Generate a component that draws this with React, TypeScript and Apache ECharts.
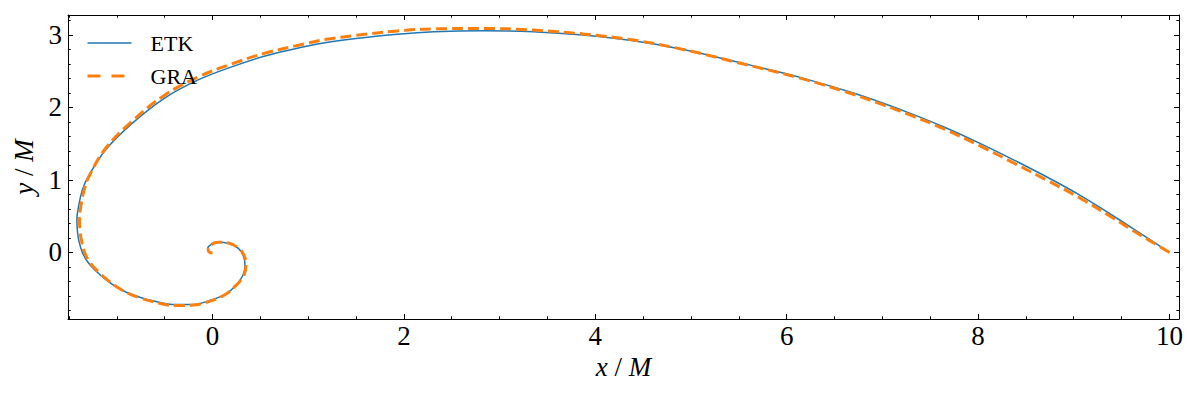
import React, { useEffect, useRef } from 'react';
import * as echarts from 'echarts';

// ETK trajectory (x/M, y/M)
const etkX = [10.0, 9.7, 9.41, 9.05, 8.72, 8.4, 8.02, 7.65, 7.32, 6.98, 6.63, 6.14, 5.93, 5.44, 4.92, 4.4, 3.87, 3.35, 2.83, 2.31, 1.93, 1.5, 1.19, 0.97, 0.55, 0.2, -0.15, -0.5, -0.84, -1.12, -1.3, -1.36, -1.4, -1.417, -1.412, -1.398, -1.36, -1.3, -1.215, -1.12, -1.02, -0.9, -0.76, -0.635, -0.39, -0.22, -0.04, 0.13, 0.25, 0.32, 0.34, 0.32, 0.27, 0.165, 0.06, -0.01, -0.05, -0.037, -0.01];
const etkY = [0.0, 0.258, 0.505, 0.8, 1.04, 1.258, 1.505, 1.727, 1.905, 2.072, 2.226, 2.415, 2.485, 2.64, 2.8, 2.92, 3.0, 3.045, 3.06, 3.045, 3.01, 2.95, 2.895, 2.84, 2.71, 2.56, 2.38, 2.13, 1.78, 1.41, 1.04, 0.86, 0.63, 0.45, 0.3, 0.17, 0.0, -0.14, -0.26, -0.37, -0.465, -0.55, -0.62, -0.665, -0.72, -0.72, -0.67, -0.58, -0.45, -0.31, -0.175, -0.04, 0.055, 0.124, 0.138, 0.11, 0.055, 0.0, -0.014];

// GRA trajectory (x/M, y/M)
const graX = [10.0, 9.7, 9.41, 9.05, 8.72, 8.4, 8.02, 7.65, 7.32, 6.98, 6.63, 6.14, 5.44, 4.92, 4.4, 3.87, 3.35, 2.83, 2.31, 1.93, 1.5, 1.19, 0.97, 0.55, 0.2, -0.15, -0.5, -0.84, -1.12, -1.29, -1.34, -1.375, -1.39, -1.385, -1.37, -1.335, -1.275, -1.19, -1.095, -0.998, -0.88, -0.745, -0.625, -0.39, -0.22, -0.04, 0.13, 0.25, 0.33, 0.35, 0.33, 0.27, 0.165, 0.06, -0.01, -0.045, -0.03, 0.0];
const graY = [0.0, 0.235, 0.475, 0.76, 0.995, 1.215, 1.47, 1.7, 1.88, 2.05, 2.21, 2.405, 2.635, 2.8, 2.93, 3.015, 3.068, 3.09, 3.085, 3.055, 2.995, 2.94, 2.88, 2.75, 2.6, 2.42, 2.17, 1.81, 1.43, 1.05, 0.87, 0.64, 0.45, 0.3, 0.17, -0.005, -0.15, -0.272, -0.383, -0.478, -0.565, -0.635, -0.68, -0.735, -0.73, -0.68, -0.585, -0.45, -0.31, -0.175, -0.04, 0.06, 0.13, 0.14, 0.11, 0.05, 0.0, -0.005];

const seriesNames = ['ETK', 'GRA'];

// Axis ranges and ticks
const xRange = [-1.51, 10.1];
const yRange = [-0.92, 3.276];
const xMajorTicks = [0, 2, 4, 6, 8, 10];
const xMinorTicks = [-1.5, -1, -0.5, 0.5, 1, 1.5, 2.5, 3, 3.5, 4.5, 5, 5.5, 6.5, 7, 7.5, 8.5, 9, 9.5];
const yMajorTicks = [0, 1, 2, 3];
const yMinorTicks = [-0.8, -0.6, -0.4, -0.2, 0.2, 0.4, 0.6, 0.8, 1.2, 1.4, 1.6, 1.8, 2.2, 2.4, 2.6, 2.8, 3.2];

const FONT = '"Liberation Serif", "DejaVu Serif", serif';
const BLACK = '#000';
const BLUE = '#1f77b4';
const ORANGE = '#ff7f0e';
const TICK_FS = 27;
const NAME_FS = 27;

function zip(xs: number[], ys: number[]) {
  return xs.map((x, i) => [x, ys[i]]);
}

function nameStyle() {
  return {
    fontFamily: FONT,
    fontSize: NAME_FS,
    color: BLACK,
    rich: {
      i: { fontFamily: FONT, fontSize: NAME_FS, fontStyle: 'italic', color: BLACK },
      n: { fontFamily: FONT, fontSize: NAME_FS, color: BLACK },
    },
  };
}

function xAxisDef(position: 'top' | 'bottom', ticks: number[], major: boolean, labels: boolean) {
  const ax: any = {
    type: 'value',
    position,
    min: xRange[0],
    max: xRange[1],
    gridIndex: 0,
    axisLine: { show: major, onZero: false, lineStyle: { color: BLACK, width: 1 } },
    axisTick: {
      show: true,
      inside: true,
      length: major ? 5 : 2.7,
      customValues: ticks,
      lineStyle: { color: BLACK, width: 1 },
    },
    axisLabel: labels
      ? {
          show: true,
          customValues: ticks,
          fontFamily: FONT,
          fontSize: TICK_FS,
          color: BLACK,
          margin: 3,
          formatter: (v: number) => String(v),
        }
      : { show: false },
    splitLine: { show: false },
    minorTick: { show: false },
  };
  if (labels) {
    ax.name = '{i|x}{n| / }{i|M}';
    ax.nameLocation = 'middle';
    ax.nameGap = 34;
    ax.nameTextStyle = nameStyle();
  }
  return ax;
}

function yAxisDef(position: 'left' | 'right', ticks: number[], major: boolean, labels: boolean) {
  const ax: any = {
    type: 'value',
    position,
    min: yRange[0],
    max: yRange[1],
    gridIndex: 0,
    axisLine: { show: major, onZero: false, lineStyle: { color: BLACK, width: 1 } },
    axisTick: {
      show: true,
      inside: true,
      length: major ? 5 : 2.7,
      customValues: ticks,
      lineStyle: { color: BLACK, width: 1 },
    },
    axisLabel: labels
      ? {
          show: true,
          customValues: ticks,
          fontFamily: FONT,
          fontSize: TICK_FS,
          color: BLACK,
          margin: 6,
          formatter: (v: number) => String(v),
        }
      : { show: false },
    splitLine: { show: false },
    minorTick: { show: false },
  };
  if (labels) {
    ax.name = '{i|y}{n| / }{i|M}';
    ax.nameLocation = 'middle';
    ax.nameGap = 22;
    ax.nameRotate = 90;
    ax.nameTextStyle = nameStyle();
  }
  return ax;
}

export default function App() {
  const ref = useRef<HTMLDivElement>(null);
  useEffect(() => {
    if (!ref.current) return;
    const chart = echarts.init(ref.current, null, { renderer: 'svg' });
    const option: any = {
      animation: false,
      backgroundColor: '#fff',
      textStyle: { fontFamily: FONT },
      grid: { left: 68, right: 21, top: 15, bottom: 81, containLabel: false, outerBoundsMode: 'none' },
      legend: {
        data: [
          { name: seriesNames[0], lineStyle: { color: BLUE, width: 1.5, type: 'solid' } },
          { name: seriesNames[1], lineStyle: { color: ORANGE, width: 3, type: [13, 11], cap: 'butt' } },
        ],
        orient: 'vertical',
        left: 86,
        top: 32,
        padding: 0,
        itemWidth: 44,
        itemHeight: 20,
        itemGap: 11,
        itemStyle: { opacity: 0 },
        textStyle: { fontFamily: FONT, fontSize: 22, color: BLACK, padding: [0, 0, 0, 14] },
      },
      xAxis: [
        xAxisDef('bottom', xMajorTicks, true, true),
        xAxisDef('bottom', xMinorTicks, false, false),
        xAxisDef('top', xMajorTicks, true, false),
        xAxisDef('top', xMinorTicks, false, false),
      ],
      yAxis: [
        yAxisDef('left', yMajorTicks, true, true),
        yAxisDef('left', yMinorTicks, false, false),
        yAxisDef('right', yMajorTicks, true, false),
        yAxisDef('right', yMinorTicks, false, false),
      ],
      series: [
        {
          name: seriesNames[0],
          type: 'line',
          xAxisIndex: 0,
          yAxisIndex: 0,
          data: zip(etkX, etkY),
          showSymbol: false,
          symbol: 'none',
          smooth: 0.4,
          lineStyle: { color: BLUE, width: 1.5 },
          itemStyle: { color: BLUE },
          z: 2,
        },
        {
          name: seriesNames[1],
          type: 'line',
          xAxisIndex: 0,
          yAxisIndex: 0,
          data: zip(graX, graY),
          showSymbol: false,
          symbol: 'none',
          smooth: 0.4,
          lineStyle: { color: ORANGE, width: 3, type: [11, 5], cap: 'butt' },
          itemStyle: { color: ORANGE },
          z: 3,
        },
      ],
    };
    chart.setOption(option);
    return () => chart.dispose();
  }, []);
  return (
    <div
      ref={ref}
      style={{ position: 'absolute', left: 0, top: 0, width: 1200, height: 400, background: '#fff' }}
    />
  );
}
